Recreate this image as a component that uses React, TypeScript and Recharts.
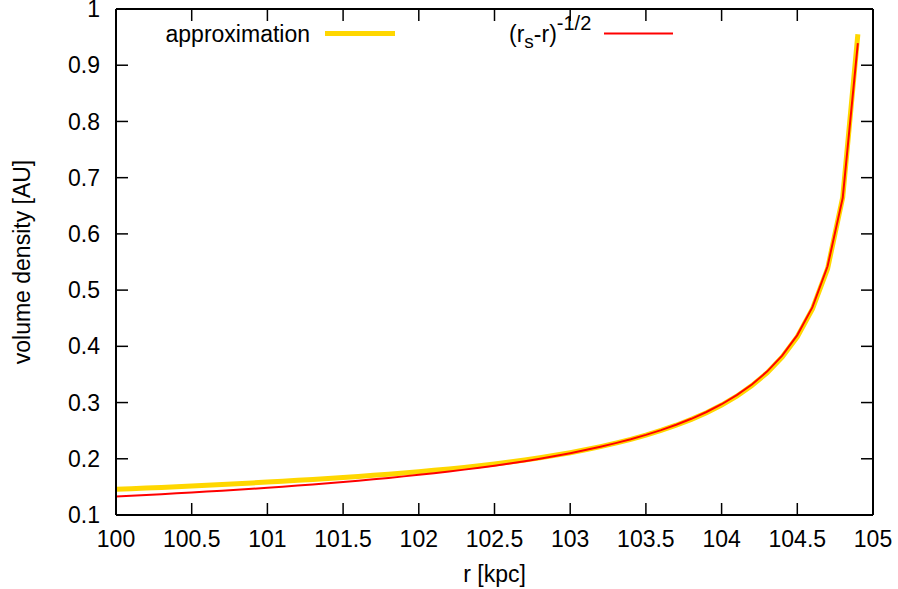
import React from 'react';
import { LineChart, Line, XAxis, YAxis } from 'recharts';

// r [kpc] sample positions
const radius = [
  100, 100.1, 100.2, 100.3, 100.4, 100.5, 100.6, 100.7, 100.8, 100.9,
  101, 101.1, 101.2, 101.3, 101.4, 101.5, 101.6, 101.7, 101.8, 101.9,
  102, 102.1, 102.2, 102.3, 102.4, 102.5, 102.6, 102.7, 102.8, 102.9,
  103, 103.1, 103.2, 103.3, 103.4, 103.5, 103.6, 103.7, 103.8, 103.9,
  104, 104.1, 104.2, 104.3, 104.4, 104.5, 104.6, 104.7, 104.8, 104.9
];

// "approximation" (thick gold curve)
const approximation = [
  0.146, 0.1469, 0.148, 0.1491, 0.1503, 0.1515, 0.1528, 0.1541, 0.1555, 0.157,
  0.1585, 0.16, 0.1616, 0.1632, 0.1649, 0.1668, 0.1686, 0.1705, 0.1725, 0.1747,
  0.177, 0.1794, 0.182, 0.1847, 0.1877, 0.1908, 0.1942, 0.1978, 0.2018, 0.2062,
  0.2108, 0.216, 0.2216, 0.2278, 0.2346, 0.2421, 0.2504, 0.2597, 0.2701, 0.282,
  0.2955, 0.3113, 0.3301, 0.3528, 0.3809, 0.417, 0.4666, 0.538, 0.665, 0.955
];

// (r_s - r)^-1/2 (thin red curve)
const powerLaw = [
  0.1328, 0.1342, 0.1356, 0.137, 0.1385, 0.14, 0.1416, 0.1432, 0.1449, 0.1467,
  0.1485, 0.1504, 0.1524, 0.1544, 0.1565, 0.1588, 0.1611, 0.1635, 0.166, 0.1687,
  0.1715, 0.1744, 0.1775, 0.1807, 0.1842, 0.1878, 0.1917, 0.1958, 0.2002, 0.205,
  0.21, 0.2155, 0.2214, 0.2278, 0.2348, 0.2425, 0.251, 0.2605, 0.2711, 0.2832,
  0.297, 0.3131, 0.3321, 0.355, 0.3834, 0.42, 0.4696, 0.5423, 0.6641, 0.9392
];

const xTicks = [100, 100.5, 101, 101.5, 102, 102.5, 103, 103.5, 104, 104.5, 105];
const yTicks = [0.1, 0.2, 0.3, 0.4, 0.5, 0.6, 0.7, 0.8, 0.9, 1];

const data = radius.map((r, i) => ({ r, approx: approximation[i], power: powerLaw[i] }));

const FONT = '"Liberation Sans", Arial, Helvetica, sans-serif';
const FS = 23;
const GOLD = '#ffd700';
const RED = '#ff0000';

const tickText = { fill: '#000', fontSize: FS, fontFamily: FONT };
const noLabel = () => <g />;

const YTitle = ({ viewBox }: any) => {
  const cy = viewBox.y + viewBox.height / 2;
  return (
    <text
      x={22}
      y={cy}
      transform={`rotate(-90 22 ${cy})`}
      textAnchor="middle"
      dominantBaseline="central"
      fontSize={FS}
      fontFamily={FONT}
      fill="#000"
    >
      volume density [AU]
    </text>
  );
};

const XTitle = ({ viewBox }: any) => (
  <text
    x={viewBox.x + viewBox.width / 2}
    y={582}
    textAnchor="middle"
    fontSize={FS}
    fontFamily={FONT}
    fill="#000"
  >
    r [kpc]
  </text>
);

function KeyBox() {
  return (
    <svg
      width={898}
      height={60}
      style={{ position: 'absolute', left: 0, top: 0, pointerEvents: 'none' }}
    >
      <text x={310} y={42} textAnchor="end" fontSize={FS} fontFamily={FONT} fill="#000">
        approximation
      </text>
      <line x1={325} x2={395} y1={33.5} y2={33.5} stroke={GOLD} strokeWidth={5} />
      <text x={509} y={42} fontSize={FS} fontFamily={FONT} fill="#000">
        (r
        <tspan fontSize={19} dy={6}>s</tspan>
        <tspan dy={-6}>-r)</tspan>
        <tspan fontSize={20} dy={-12}>-1/2</tspan>
      </text>
      <line x1={604} x2={673} y1={33.5} y2={33.5} stroke={RED} strokeWidth={2} />
    </svg>
  );
}

// frame axes: mirrored so their ticks point into the plot, labels suppressed
const frameX = (id: string, orientation: 'top' | 'bottom') => (
  <XAxis
    xAxisId={id}
    orientation={orientation}
    mirror
    dataKey="r"
    type="number"
    domain={[100, 105]}
    ticks={xTicks}
    allowDataOverflow
    interval={0}
    tickSize={12}
    stroke="#000"
    axisLine={{ stroke: '#000', strokeWidth: 2 }}
    tickLine={{ stroke: '#000', strokeWidth: 1.5 }}
    tick={noLabel}
    tickFormatter={() => ''}
  />
);

const frameY = (id: string, orientation: 'left' | 'right') => (
  <YAxis
    yAxisId={id}
    orientation={orientation}
    mirror
    type="number"
    domain={[0.1, 1]}
    ticks={yTicks}
    allowDataOverflow
    interval={0}
    tickSize={12}
    stroke="#000"
    axisLine={{ stroke: '#000', strokeWidth: 2 }}
    tickLine={{ stroke: '#000', strokeWidth: 1.5 }}
    tick={noLabel}
    tickFormatter={() => ''}
  />
);

export default function App() {
  return (
    <div style={{ position: 'absolute', left: 0, top: 0, width: 898, height: 589, background: '#fff' }}>
      <LineChart
        width={898}
        height={589}
        data={data}
        margin={{ top: 9, right: 25, left: 0, bottom: 0 }}
      >
        <XAxis
          xAxisId="bottom"
          dataKey="r"
          type="number"
          domain={[100, 105]}
          ticks={xTicks}
          allowDataOverflow
          interval={0}
          height={74}
          tickSize={0}
          tickMargin={16}
          axisLine={false}
          tickLine={false}
          tick={tickText}
          label={{ content: XTitle }}
        />
        <YAxis
          yAxisId="left"
          type="number"
          domain={[0.1, 1]}
          ticks={yTicks}
          allowDataOverflow
          interval={0}
          width={116}
          tickSize={0}
          tickMargin={16}
          axisLine={false}
          tickLine={false}
          tick={tickText}
          label={{ content: YTitle }}
        />
        {frameX('frameBottom', 'bottom')}
        {frameX('frameTop', 'top')}
        {frameY('frameLeft', 'left')}
        {frameY('frameRight', 'right')}
        <Line
          xAxisId="bottom"
          yAxisId="left"
          dataKey="approx"
          type="linear"
          stroke={GOLD}
          strokeWidth={5}
          dot={false}
          activeDot={false}
          isAnimationActive={false}
        />
        <Line
          xAxisId="bottom"
          yAxisId="left"
          dataKey="power"
          type="linear"
          stroke={RED}
          strokeWidth={2}
          dot={false}
          activeDot={false}
          isAnimationActive={false}
        />
        <Line
          xAxisId="frameTop"
          yAxisId="frameRight"
          dataKey="power"
          stroke="none"
          dot={false}
          activeDot={false}
          legendType="none"
          isAnimationActive={false}
        />
        <Line
          xAxisId="frameBottom"
          yAxisId="frameLeft"
          dataKey="power"
          stroke="none"
          dot={false}
          activeDot={false}
          legendType="none"
          isAnimationActive={false}
        />
      </LineChart>
      <KeyBox />
    </div>
  );
}
